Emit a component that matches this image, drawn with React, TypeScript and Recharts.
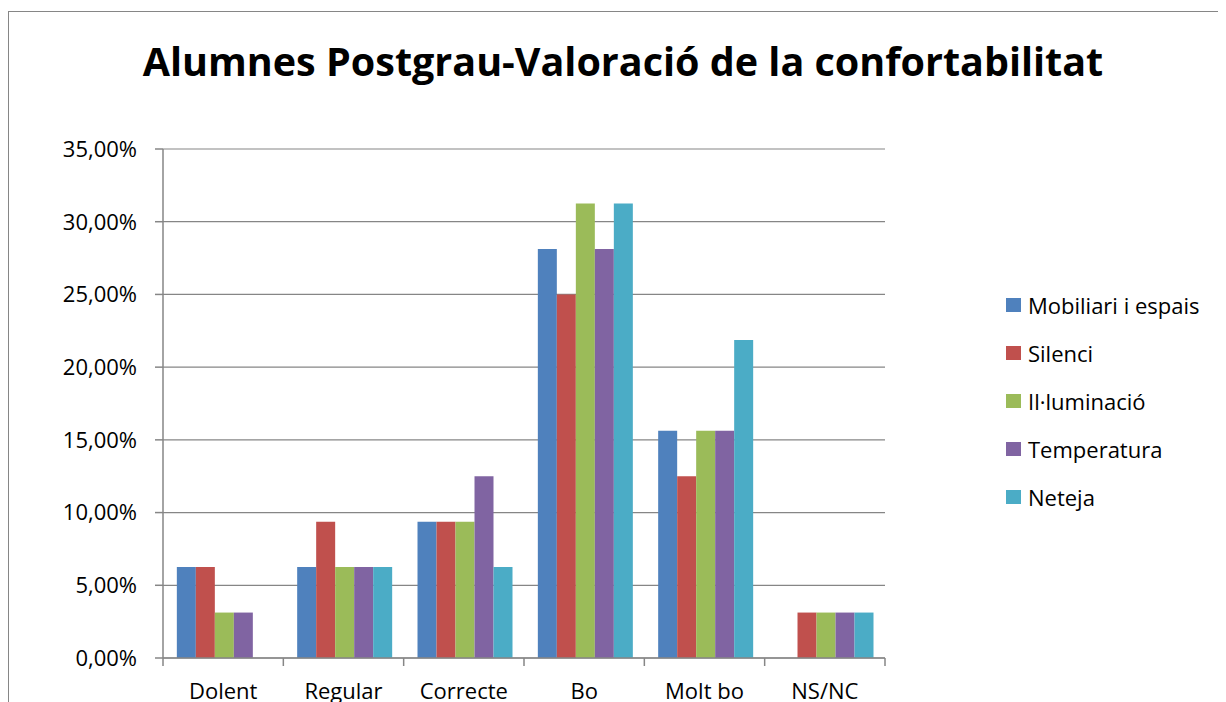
import React from 'react';
import { BarChart, Bar, XAxis, YAxis, CartesianGrid } from 'recharts';

const categories = ['Dolent', 'Regular', 'Correcte', 'Bo', 'Molt bo', 'NS/NC'];
const mobiliari = [6.25, 6.25, 9.375, 28.125, 15.625, 0];
const silenci = [6.25, 9.375, 9.375, 25, 12.5, 3.125];
const illuminacio = [3.125, 6.25, 9.375, 31.25, 15.625, 3.125];
const temperatura = [3.125, 6.25, 12.5, 28.125, 15.625, 3.125];
const neteja = [0, 6.25, 6.25, 31.25, 21.875, 3.125];
const yTicks = [0, 5, 10, 15, 20, 25, 30, 35];

const series = [
  { key: 'mob', name: 'Mobiliari i espais', color: '#4F81BD' },
  { key: 'sil', name: 'Silenci', color: '#C0504D' },
  { key: 'ill', name: 'Il·luminació', color: '#9BBB59' },
  { key: 'tem', name: 'Temperatura', color: '#8064A2' },
  { key: 'net', name: 'Neteja', color: '#4BACC6' },
];

const data = categories.map((c, i) => ({
  cat: c,
  mob: mobiliari[i],
  sil: silenci[i],
  ill: illuminacio[i],
  tem: temperatura[i],
  net: neteja[i],
}));

const font = '"Open Sans", "Noto Sans", sans-serif';
const gray = '#868686';

const fmt = (v: number) => v.toFixed(2).replace('.', ',') + '%';

// category label plus tick marks on the band boundaries
function CatTick(props: any) {
  const { x, y, payload, index, visibleTicksCount } = props;
  const half = payload.offset || 0;
  const last = index === visibleTicksCount - 1;
  return (
    <g>
      <line x1={x - half} x2={x - half} y1={y} y2={y + 8} stroke={gray} strokeWidth={1.5} />
      {last && <line x1={x + half} x2={x + half} y1={y} y2={y + 8} stroke={gray} strokeWidth={1.5} />}
      <text x={x} y={y + 25} dy="0.71em" textAnchor="middle" fill="#000" fontSize={22} fontFamily={font}>
        {payload.value}
      </text>
    </g>
  );
}

function LegendBox() {
  return (
    <div
      style={{
        position: 'absolute',
        left: 997,
        top: 269,
        fontFamily: font,
        fontSize: 22,
        color: '#000',
      }}
    >
      {series.map((s) => (
        <div key={s.key} style={{ display: 'flex', alignItems: 'center', height: 48 }}>
          <span style={{ width: 15, height: 14, background: s.color, marginRight: 7, display: 'inline-block' }} />
          <span>{s.name}</span>
        </div>
      ))}
    </div>
  );
}

export default function App() {
  return (
    <div
      style={{
        position: 'relative',
        marginTop: 3,
        width: 1216,
        height: 700,
        borderTop: `1px solid ${gray}`,
        borderLeft: `1px solid ${gray}`,
        borderRight: `1px solid ${gray}`,
        background: '#fff',
      }}
    >
      <div
        style={{
          position: 'absolute',
          left: 0,
          top: 22,
          width: 1228,
          textAlign: 'center',
          fontFamily: font,
          fontWeight: 700,
          fontSize: 39.5,
          color: '#000',
        }}
      >
        Alumnes Postgrau-Valoració de la confortabilitat
      </div>
      <BarChart
        width={1215}
        height={700}
        data={data}
        margin={{ top: 137, right: 339, bottom: 14, left: 54 }}
        barCategoryGap="11.5%"
        barGap={0}
      >
        <CartesianGrid vertical={false} stroke={gray} strokeWidth={1.2} />
        <XAxis
          dataKey="cat"
          height={40}
          interval={0}
          axisLine={{ stroke: gray, strokeWidth: 1.5 }}
          tickLine={false}
          tickSize={0}
          tickMargin={0}
          tick={<CatTick />}
        />
        <YAxis
          width={100}
          domain={[0, 35]}
          ticks={yTicks}
          tickFormatter={fmt}
          axisLine={{ stroke: gray, strokeWidth: 1.5 }}
          tickLine={{ stroke: gray, strokeWidth: 1.5 }}
          tickSize={8}
          tickMargin={18}
          tick={{ fill: '#000', fontSize: 22, fontFamily: font }}
        />
        {series.map((s) => (
          <Bar key={s.key} dataKey={s.key} name={s.name} fill={s.color} isAnimationActive={false} />
        ))}
      </BarChart>
      <LegendBox />
    </div>
  );
}
